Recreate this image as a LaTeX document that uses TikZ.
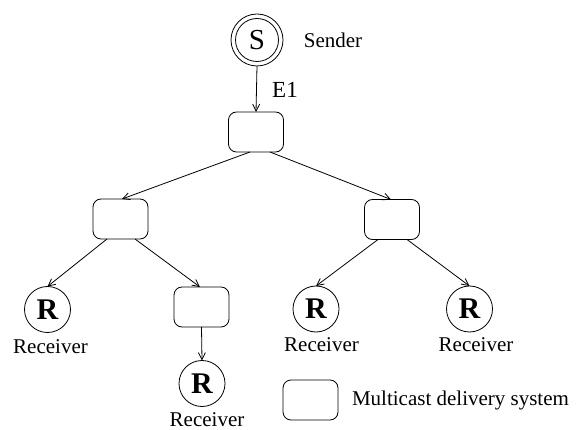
\documentclass[tikz,border=0pt]{standalone}
\usepackage{fontspec}
\setmainfont{Liberation Serif}
\usetikzlibrary{arrows.meta}
\begin{document}
\begin{tikzpicture}[x=1pt,y=-1pt,
  every node/.style={inner sep=0pt, outer sep=0pt},
  mbox/.style={draw, line width=0.8pt, rounded corners=8pt, minimum width=55pt, minimum height=40pt},
  rnode/.style={draw, circle, line width=0.8pt, minimum size=46pt, font=\fontsize{30}{32}\selectfont\bfseries},
  lbl/.style={font=\fontsize{21}{25}\selectfont},
  arr/.style={line width=0.8pt, -{Straight Barb[length=7pt,width=7pt]}}
]
\useasboundingbox (0,0) rectangle (578,430);
% sender
\node[draw, circle, line width=0.8pt, minimum size=52pt] (Sout) at (257,40) {};
\node[draw, circle, line width=0.8pt, minimum size=43pt, font=\fontsize{29}{31}\selectfont] (S) at (257,40) {S};
\node[lbl] (sender) at (333,40) {Sender};
\node[font=\fontsize{23}{26}\selectfont] (e1) at (285,90) {E1};
% boxes
\node[mbox] (top) at (256,132) {};
\node[mbox] (ml) at (120.5,219) {};
\node[mbox] (mr) at (392,219.5) {};
\node[mbox] (sm) at (201.5,307) {};
\node[mbox] (leg) at (310.5,400) {};
\node[lbl, anchor=west] (legt) at (352,400) {Multicast delivery system};
% receivers
\node[rnode] (r1) at (47.5,309.5) {R};
\node[rnode] (r2) at (202,383.5) {R};
\node[rnode] (r3) at (316,309) {R};
\node[rnode] (r4) at (469.5,309) {R};
\node[lbl] (l1) at (50.5,347) {Receiver};
\node[lbl] (l2) at (207,420) {Receiver};
\node[lbl] (l3) at (321.5,345) {Receiver};
\node[lbl] (l4) at (476,345) {Receiver};
% connectors
\draw[arr] (Sout.south) -- (top.north);
\draw[arr] ([xshift=-6pt]top.south) -- ([xshift=1.5pt]ml.north);
\draw[arr] ([xshift=14pt]top.south) -- ([xshift=-1pt]mr.north);
\draw[arr] ([xshift=-13.5pt]ml.south) -- (r1.north);
\draw[arr] ([xshift=14.5pt]ml.south) -- ([xshift=-1.5pt]sm.north);
\draw[arr] (sm.south) -- (r2.north);
\draw[arr] ([xshift=-14pt]mr.south) -- (r3.north);
\draw[arr] ([xshift=15pt]mr.south) -- (r4.north);
\end{tikzpicture}
\end{document}
